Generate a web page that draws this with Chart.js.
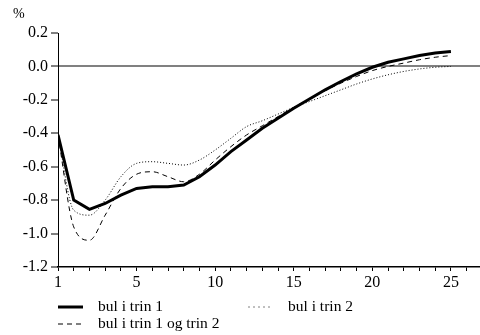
<!DOCTYPE html>
<html>
<head>
<meta charset="utf-8">
<script src="https://cdn.jsdelivr.net/npm/chart.js@4"></script>
<style>
  html, body { margin: 0; padding: 0; background: #fff; }
  #wrap { position: relative; width: 480px; height: 335px; }
  #chart { position: absolute; left: 0; top: 0; }
  .unit { position: absolute; left: 13px; top: 6px; font: 14px "Liberation Serif", serif; color: #000; }
  .legend-item { position: absolute; font: 15.5px "Liberation Serif", serif; color: #000; line-height: 18px; white-space: nowrap; }
  .legend-item svg { position: absolute; left: -40px; top: 0; }
</style>
</head>
<body>
<div id="wrap">
  <canvas id="chart" width="480" height="335"></canvas>
  <div class="unit">%</div>
  <div class="legend-item" style="left:98px; top:297px;">
    <svg width="26" height="18"><line x1="0" y1="10" x2="25" y2="10" stroke="#000" stroke-width="3"/></svg>bul i trin 1
  </div>
  <div class="legend-item" style="left:288px; top:297px;">
    <svg width="26" height="18"><line x1="0.5" y1="10" x2="25" y2="10" stroke="#000" stroke-width="1" stroke-dasharray="1 4"/></svg>bul i trin 2
  </div>
  <div class="legend-item" style="left:98px; top:314px;">
    <svg width="26" height="18"><line x1="0" y1="10" x2="25" y2="10" stroke="#000" stroke-width="1" stroke-dasharray="5 4"/></svg>bul i trin 1 og trin 2
  </div>
</div>
<script>
// periods (x positions) and the three series
const periods = [0, 1, 2, 3, 4, 5, 6, 7, 8, 9, 10, 11, 12, 13, 14, 15, 16, 17, 18, 19, 20, 21, 22, 23, 24, 25];
const trin1 = [-0.41, -0.80, -0.855, -0.82, -0.77, -0.73, -0.72, -0.72, -0.71, -0.66, -0.59, -0.51, -0.44, -0.37, -0.31, -0.25, -0.195, -0.14, -0.09, -0.045, -0.005, 0.025, 0.045, 0.065, 0.08, 0.09];
const trin1og2 = [-0.41, -0.96, -1.04, -0.89, -0.73, -0.645, -0.63, -0.66, -0.69, -0.645, -0.56, -0.48, -0.41, -0.355, -0.30, -0.245, -0.195, -0.145, -0.10, -0.06, -0.025, 0.0, 0.02, 0.04, 0.055, 0.065];
const trin2 = [-0.41, -0.86, -0.89, -0.80, -0.66, -0.58, -0.57, -0.58, -0.59, -0.56, -0.50, -0.43, -0.36, -0.325, -0.285, -0.245, -0.21, -0.175, -0.14, -0.105, -0.075, -0.05, -0.03, -0.015, -0.005, 0.0];

const xTickValues = [0, 1, 2, 3, 4, 5, 6, 7, 8, 9, 10, 11, 12, 13, 14, 15, 16, 17, 18, 19, 20, 21, 22, 23, 24, 25, 26];
const xTickLabels = { 0: "1", 5: "5", 10: "10", 15: "15", 20: "20", 25: "25" };
const yTickValues = [-1.2, -1.0, -0.8, -0.6, -0.4, -0.2, 0.0, 0.2];

const toPoints = arr => arr.map((v, i) => ({ x: periods[i], y: v }));
const tickFont = { family: "'Liberation Serif', serif", size: 16 };

new Chart(document.getElementById("chart").getContext("2d"), {
  type: "line",
  data: {
    datasets: [
      { label: "bul i trin 1", data: toPoints(trin1), borderColor: "#000", borderWidth: 3, tension: 0, pointRadius: 0 },
      { label: "bul i trin 1 og trin 2", data: toPoints(trin1og2), borderColor: "#000", borderWidth: 1, borderDash: [5, 4], cubicInterpolationMode: "monotone", pointRadius: 0 },
      { label: "bul i trin 2", data: toPoints(trin2), borderColor: "#000", borderWidth: 1, borderDash: [1, 2], cubicInterpolationMode: "monotone", pointRadius: 0 }
    ]
  },
  options: {
    responsive: false,
    animation: false,
    layout: { padding: { top: 33, left: 0, right: 0, bottom: 40 } },
    plugins: { legend: { display: false }, tooltip: { enabled: false } },
    scales: {
      x: {
        type: "linear",
        min: 0,
        max: 26.85,
        afterBuildTicks: scale => { scale.ticks = xTickValues.map(v => ({ value: v })); },
        afterFit: scale => { scale.height = 28; },
        ticks: {
          autoSkip: false,
          maxRotation: 0,
          padding: 2,
          color: "#000",
          font: tickFont,
          callback: v => xTickLabels[v] || ""
        },
        grid: { drawOnChartArea: false, color: "#000", tickColor: "#000", tickLength: 4, tickWidth: 1 },
        border: { color: "#000", width: 1.5 }
      },
      y: {
        min: -1.2,
        max: 0.2,
        afterBuildTicks: scale => { scale.ticks = yTickValues.map(v => ({ value: v })); },
        afterFit: scale => { scale.width = 58; },
        ticks: {
          padding: 3,
          color: "#000",
          font: tickFont,
          callback: v => v.toFixed(1)
        },
        grid: {
          color: c => (c.tick && Math.abs(c.tick.value) < 1e-9 ? "#808080" : "rgba(0,0,0,0)"),
          lineWidth: c => (c.tick && Math.abs(c.tick.value) < 1e-9 ? 2 : 0),
          tickColor: "#000",
          tickLength: 7,
          tickWidth: 1
        },
        border: { color: "#000", width: 1 }
      }
    }
  }
});
</script>
</body>
</html>
